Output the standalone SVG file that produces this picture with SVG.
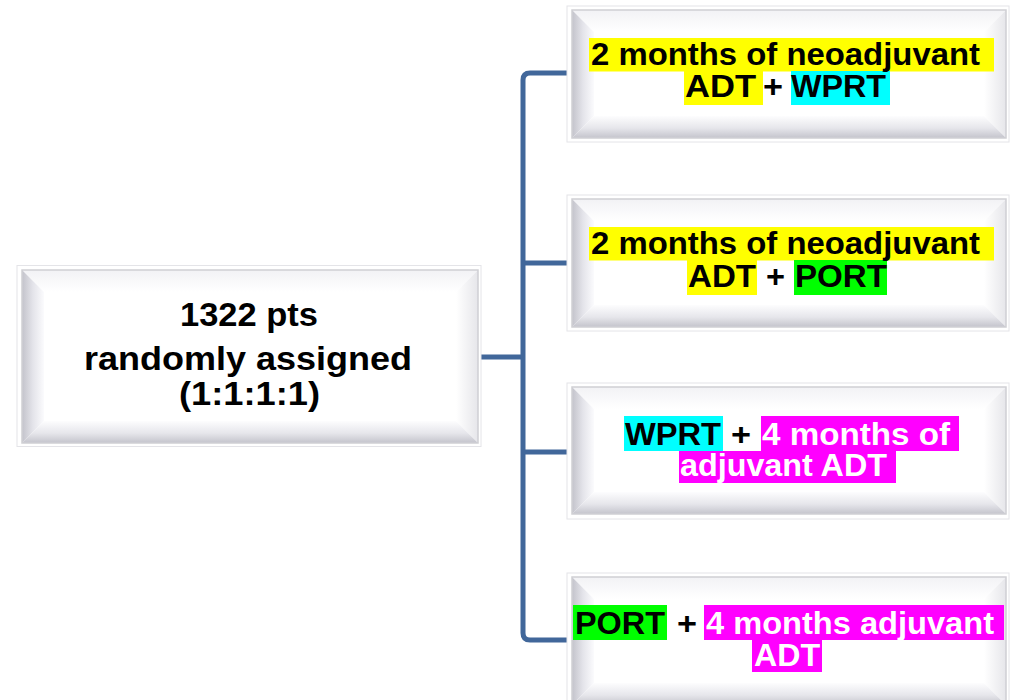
<svg xmlns="http://www.w3.org/2000/svg" width="1014" height="700" viewBox="0 0 1014 700">
  <style>
    .halo { fill: #ffffff; stroke: #e4e4e8; stroke-width: 1; }
    .face { fill: #ffffff; }
    .frame { fill: none; stroke: #cfcfd4; stroke-width: 1.5; }
    .bl { fill: url(#bevelLeft); }
    .bb { fill: url(#bevelBottom); }
    .bt { fill: url(#bevelTop); }
    .br { fill: url(#bevelRight); }
    .t { font-family: "Liberation Sans", Arial, Helvetica, sans-serif; font-weight: bold; fill: #000000; }
    .r { font-size: 32px; }
    .l { font-size: 33px; }
    .w { fill: #ffffff; }
    .hy { fill: #ffff00; }
    .hc { fill: #00ffff; }
    .hg { fill: #00ff00; }
    .hm { fill: #ff00ff; }
    .link { fill: none; stroke: #41679a; stroke-width: 5; stroke-linecap: butt; stroke-linejoin: round; }
  </style>
  <defs>
    <linearGradient id="bevelLeft" x1="0" y1="0" x2="1" y2="0">
      <stop offset="0" stop-color="#c3c3cb"/>
      <stop offset="0.5" stop-color="#e4e4ea"/>
      <stop offset="1" stop-color="#fbfbfd"/>
    </linearGradient>
    <linearGradient id="bevelBottom" x1="0" y1="0" x2="0" y2="1">
      <stop offset="0" stop-color="#fdfdfe"/>
      <stop offset="0.55" stop-color="#e6e6eb"/>
      <stop offset="1" stop-color="#c4c4cc"/>
    </linearGradient>
    <linearGradient id="bevelTop" x1="0" y1="0" x2="0" y2="1">
      <stop offset="0" stop-color="#f2f2f5"/>
      <stop offset="1" stop-color="#ffffff"/>
    </linearGradient>
    <linearGradient id="bevelRight" x1="0" y1="0" x2="1" y2="0">
      <stop offset="0" stop-color="#ffffff"/>
      <stop offset="1" stop-color="#e6e6ea"/>
    </linearGradient>
  </defs>

  <rect width="1014" height="700" fill="#ffffff"/>

  <!-- connectors -->
  <g id="connectors">
    <path class="link" d="M481,357 H523"/>
    <path class="link" d="M570,73 H530 Q523,73 523,80 V633 Q523,640 530,640 H570"/>
    <path class="link" d="M523,263 H570"/>
    <path class="link" d="M523,452 H570"/>
  </g>

  <!-- root node -->
  <g id="node-randomised">
    <rect class="halo" x="17" y="265.5" width="464" height="181"/>
    <rect class="face" x="22" y="270" width="456" height="173"/>
    <polygon class="bt" points="22,270 478,270 456,292 44,292"/>
    <polygon class="br" points="478,270 478,443 456,421 456,292"/>
    <polygon class="bl" points="22,270 44,292 44,421 22,443"/>
    <polygon class="bb" points="22,443 44,421 456,421 478,443"/>
    <rect class="face" x="44" y="292" width="412" height="129"/>
    <rect class="frame" x="22" y="270" width="456" height="173"/>
    <text class="t l" x="180" y="326" textLength="138" lengthAdjust="spacingAndGlyphs">1322 pts</text>
    <text class="t l" x="84" y="370" textLength="328" lengthAdjust="spacingAndGlyphs">randomly assigned</text>
    <text class="t l" x="179" y="405" textLength="141" lengthAdjust="spacingAndGlyphs">(1:1:1:1)</text>
  </g>

  <!-- arm 1 -->
  <g id="node-arm1">
    <rect class="halo" x="567" y="6" width="442" height="136"/>
    <rect class="face" x="572" y="10" width="434" height="128"/>
    <polygon class="bt" points="572,10 1006,10 984,32 594,32"/>
    <polygon class="br" points="1006,10 1006,138 984,116 984,32"/>
    <polygon class="bl" points="572,10 594,32 594,116 572,138"/>
    <polygon class="bb" points="572,138 594,116 984,116 1006,138"/>
    <rect class="face" x="594" y="32" width="390" height="84"/>
    <rect class="frame" x="572" y="10" width="434" height="128"/>
    <rect class="hy" x="589" y="38" width="405" height="33.5"/>
    <rect class="hy" x="684" y="71" width="79" height="34"/>
    <rect class="hc" x="791" y="71" width="99" height="34"/>
    <text class="t r" x="591" y="65" textLength="389" lengthAdjust="spacingAndGlyphs">2 months of neoadjuvant</text>
    <text class="t r" x="685" y="97" textLength="71" lengthAdjust="spacingAndGlyphs">ADT</text>
    <text class="t r" x="763" y="97" textLength="20" lengthAdjust="spacingAndGlyphs">+</text>
    <text class="t r" x="791" y="97" textLength="95" lengthAdjust="spacingAndGlyphs">WPRT</text>
  </g>

  <!-- arm 2 -->
  <g id="node-arm2">
    <rect class="halo" x="567" y="195" width="442" height="136"/>
    <rect class="face" x="572" y="199" width="434" height="128"/>
    <polygon class="bt" points="572,199 1006,199 984,221 594,221"/>
    <polygon class="br" points="1006,199 1006,327 984,305 984,221"/>
    <polygon class="bl" points="572,199 594,221 594,305 572,327"/>
    <polygon class="bb" points="572,327 594,305 984,305 1006,327"/>
    <rect class="face" x="594" y="221" width="390" height="84"/>
    <rect class="frame" x="572" y="199" width="434" height="128"/>
    <rect class="hy" x="589" y="227" width="405" height="33.5"/>
    <rect class="hy" x="687" y="260" width="70" height="35"/>
    <rect class="hg" x="794" y="260" width="93" height="35"/>
    <text class="t r" x="591" y="254" textLength="389" lengthAdjust="spacingAndGlyphs">2 months of neoadjuvant</text>
    <text class="t r" x="688" y="287" textLength="68" lengthAdjust="spacingAndGlyphs">ADT</text>
    <text class="t r" x="766" y="287" textLength="19" lengthAdjust="spacingAndGlyphs">+</text>
    <text class="t r" x="795" y="287" textLength="92" lengthAdjust="spacingAndGlyphs">PORT</text>
  </g>

  <!-- arm 3 -->
  <g id="node-arm3">
    <rect class="halo" x="567" y="383" width="442" height="136"/>
    <rect class="face" x="572" y="387" width="434" height="127"/>
    <polygon class="bt" points="572,387 1006,387 984,409 594,409"/>
    <polygon class="br" points="1006,387 1006,514 984,492 984,409"/>
    <polygon class="bl" points="572,387 594,409 594,492 572,514"/>
    <polygon class="bb" points="572,514 594,492 984,492 1006,514"/>
    <rect class="face" x="594" y="409" width="390" height="83"/>
    <rect class="frame" x="572" y="387" width="434" height="127"/>
    <rect class="hc" x="624" y="416" width="99" height="35"/>
    <rect class="hm" x="761" y="416" width="198" height="35"/>
    <rect class="hm" x="679" y="451" width="217" height="32"/>
    <text class="t r" x="625" y="445" textLength="96" lengthAdjust="spacingAndGlyphs">WPRT</text>
    <text class="t r" x="731" y="445" textLength="20" lengthAdjust="spacingAndGlyphs">+</text>
    <text class="t r w" x="762" y="445" textLength="188" lengthAdjust="spacingAndGlyphs">4 months of</text>
    <text class="t r w" x="680" y="476" textLength="207" lengthAdjust="spacingAndGlyphs">adjuvant ADT</text>
  </g>

  <!-- arm 4 -->
  <g id="node-arm4">
    <rect class="halo" x="567" y="573" width="442" height="136"/>
    <rect class="face" x="572" y="577" width="434" height="128"/>
    <polygon class="bt" points="572,577 1006,577 984,599 594,599"/>
    <polygon class="br" points="1006,577 1006,705 984,683 984,599"/>
    <polygon class="bl" points="572,577 594,599 594,683 572,705"/>
    <polygon class="bb" points="572,705 594,683 984,683 1006,705"/>
    <rect class="face" x="594" y="599" width="390" height="84"/>
    <rect class="frame" x="572" y="577" width="434" height="128"/>
    <rect class="hg" x="573" y="605" width="94" height="35"/>
    <rect class="hm" x="704" y="605" width="300" height="35"/>
    <rect class="hm" x="752" y="640" width="70" height="32"/>
    <text class="t r" x="575" y="634" textLength="90" lengthAdjust="spacingAndGlyphs">PORT</text>
    <text class="t r" x="677" y="634" textLength="20" lengthAdjust="spacingAndGlyphs">+</text>
    <text class="t r w" x="706" y="634" textLength="288" lengthAdjust="spacingAndGlyphs">4 months adjuvant</text>
    <text class="t r w" x="754" y="666" textLength="66" lengthAdjust="spacingAndGlyphs">ADT</text>
  </g>
</svg>
